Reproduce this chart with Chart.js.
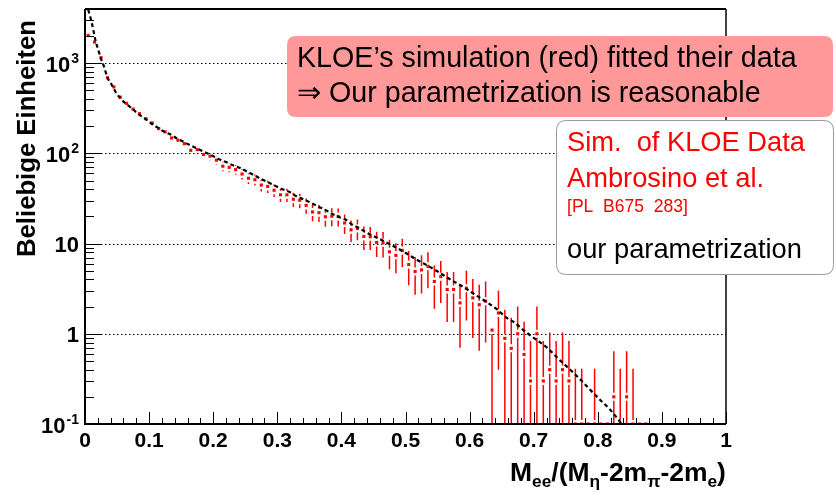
<!DOCTYPE html>
<html><head><meta charset="utf-8">
<script src="https://cdn.jsdelivr.net/npm/chart.js@4/dist/chart.umd.min.js"></script>
<style>html,body{margin:0;padding:0;background:#fff}</style>
</head><body>
<canvas id="c" width="836" height="496"></canvas>
<script>
// ---------- data ----------
const binCenters = [0.005,0.015,0.025,0.035,0.045,0.055,0.065,0.075,0.085,0.095,
 0.105,0.115,0.125,0.135,0.145,0.155,0.165,0.175,0.185,0.195,
 0.205,0.215,0.225,0.235,0.245,0.255,0.265,0.275,0.285,0.295,
 0.305,0.315,0.325,0.335,0.345,0.355,0.365,0.375,0.385,0.395,
 0.405,0.415,0.425,0.435,0.445,0.455,0.465,0.475,0.485,0.495,
 0.505,0.515,0.525,0.535,0.545,0.555,0.565,0.575,0.585,0.595,
 0.605,0.615,0.625,0.635,0.645,0.655,0.665,0.675,0.685,0.695,
 0.705,0.715,0.725,0.735,0.745,0.755,0.765,0.775,0.785,0.795,
 0.805,0.815,0.825,0.835,0.845,0.855,0.865,0.875];
const kloeValues = [2030,1710,1150,690,545,420,358,309,275,242,
 217,188,173,148,140,128,108,110,97,93,
 84,72,70,66,59,53,51,44.5,43,39,
 34.7,34.7,31,30.2,26.5,22.4,22,19.8,20.1,20,
 16.9,14.2,14.7,12,11.9,10.3,10.2,8.1,7.4,8.4,
 5.85,4.9,5.1,5.6,3.8,4.3,3.1,3.1,2.2,3.2,
 2.5,2.1,2.3,1.1,1.7,0.89,0.69,1.0,0.59,0.3,
 1.0,0.3,0.4,0.3,0.4,0.3,0.1,0.1,0,0.1,
 0,0,0.2,0.1,0.2,0.1,0,0];
const kloeErrLow = [45,41,34,26,23,20,19,18,17,16,
 15,14,13,12,12,11,10,10.5,10,9.6,
 9.2,8.5,8.4,8.1,7.7,7.3,7.1,6.7,6.6,6.2,
 5.9,5.9,5.6,5.5,5.1,4.7,4.7,4.4,4.5,4.5,
 4.1,3.8,3.8,3.5,3.4,3.2,3.2,2.9,2.7,2.9,
 2.4,2.2,2.3,2.4,1.9,2.1,1.75,1.75,1.5,1.8,
 1.6,1.45,1.5,1.1,1.3,0.96,0.82,1.0,0.77,0.53,
 1.0,0.53,0.63,0.53,0.63,0.53,0.31,0.31,0,0.31,
 0,0,0.44,0.31,0.44,0.31,0,0];
const kloeErrHigh = [45,41,34,26,23,20,19,18,17,16,
 15,14,13,12,12,11,10,10.5,10,9.6,
 9.2,8.5,8.4,8.1,7.7,7.3,7.1,6.7,6.6,6.2,
 5.9,5.9,5.6,5.5,5.1,4.7,4.7,4.4,4.5,4.5,
 4.1,3.8,3.8,3.5,3.4,3.2,3.2,2.9,2.7,2.9,
 2.4,2.2,2.3,2.4,1.9,2.1,1.75,1.75,1.3,1.8,
 1.55,1.4,1.5,0,1.3,0.96,0.82,1.0,0.77,0.53,
 1.0,0.53,0.63,0.53,0.63,0.53,0.31,0.31,0,0.31,
 0,0,0.44,0.31,0.44,0.31,0,0];
const curveX = [0.005,0.0094,0.013,0.0167,0.0208,0.0245,0.0286,0.0354,0.0416,0.0478,
 0.0546,0.064,0.0754,0.0832,0.0936,0.104,0.113,0.124,0.134,0.145,
 0.154,0.165,0.176,0.186,0.198,0.208,0.221,0.231,0.242,0.255,
 0.265,0.275,0.286,0.296,0.307,0.32,0.33,0.342,0.353,0.363,
 0.374,0.385,0.395,0.406,0.417,0.427,0.437,0.447,0.458,0.471,
 0.491,0.507,0.517,0.538,0.552,0.57,0.591,0.612,0.627,0.643,
 0.658,0.671,0.68,0.689,0.7,0.721,0.737,0.757,0.773,0.788,
 0.803,0.819,0.832,0.845];
const curveY = [3900,3020,2340,1740,1400,1140,960,684,577,479,
 411,355,305,273,242,213,194,173,161,144,
 134,122,112,104,94.4,86.8,79.5,73.6,68.9,61.6,
 56.6,52,47.7,43.9,40.3,37,33.4,30.7,28.2,25.9,
 23.8,21.5,19.8,18.5,16.2,14.9,13.5,12.4,11.4,10.2,
 8.6,7.36,6.65,5.52,4.81,3.99,3.28,2.61,2.24,1.86,
 1.50,1.32,1.16,1.03,0.90,0.70,0.54,0.40,0.31,0.24,
 0.187,0.145,0.112,0.085];
const xTickValues = [0,0.1,0.2,0.3,0.4,0.5,0.6,0.7,0.8,0.9,1];
const xTickLabels = ["0","0.1","0.2","0.3","0.4","0.5","0.6","0.7","0.8","0.9","1"];
const yTickValues = [0.1,1,10,100,1000];
const yTickBases = ["10","1","10","10","10"];
const yTickExps = ["-1","","","2","3"];
const xTitleParts = [["M",0],["ee",1],["/(M",0],["\u03B7",1],["-2m",0],["\u03C0",1],["-2m",0],["e",1],[")",0]];
const yTitle = "Beliebige Einheiten";
const noteTexts = ["KLOE\u2019s simulation (red) fitted their data","\u21D2 Our parametrization is reasonable"];
const legendTexts = ["Sim.  of KLOE Data","Ambrosino et al.","[PL  B675  283]","our parametrization"];

// ---------- drawing ----------
const FONT = '"Liberation Sans", Arial, sans-serif';
function fit(ctx, text, weight, target) {
  ctx.font = weight + ' 20px ' + FONT;
  return 20 * target / ctx.measureText(text).width;
}
function rrect(ctx, x, y, w, h, r) {
  ctx.beginPath();
  ctx.moveTo(x + r, y); ctx.lineTo(x + w - r, y); ctx.quadraticCurveTo(x + w, y, x + w, y + r);
  ctx.lineTo(x + w, y + h - r); ctx.quadraticCurveTo(x + w, y + h, x + w - r, y + h);
  ctx.lineTo(x + r, y + h); ctx.quadraticCurveTo(x, y + h, x, y + h - r);
  ctx.lineTo(x, y + r); ctx.quadraticCurveTo(x, y, x + r, y); ctx.closePath();
}

const decor = {
  id: 'decor',
  beforeDatasetsDraw(chart) {
    const {ctx, chartArea: a, scales: {x, y}} = chart;
    ctx.save();
    ctx.strokeStyle = '#000'; ctx.lineWidth = 1; ctx.setLineDash([1.5, 2.5]);
    yTickValues.forEach(v => {
      if (v <= y.min) return;
      const py = Math.round(y.getPixelForValue(v)) + 0.5;
      ctx.beginPath(); ctx.moveTo(a.left, py); ctx.lineTo(a.right, py); ctx.stroke();
    });
    ctx.setLineDash([]);
    ctx.beginPath(); ctx.rect(a.left, a.top, a.right - a.left, a.bottom - a.top); ctx.clip();
    ctx.strokeStyle = '#ff0000'; ctx.lineWidth = 1.5;
    const gap = 4;
    binCenters.forEach((xc, i) => {
      const v = kloeValues[i];
      if (!(v > 0)) return;
      const px = x.getPixelForValue(xc);
      const py = y.getPixelForValue(Math.max(v, y.min));
      const hi = v + kloeErrHigh[i], lo = v - kloeErrLow[i];
      const pHi = y.getPixelForValue(hi);
      const pLo = lo > 0 ? y.getPixelForValue(lo) : a.bottom;
      ctx.beginPath();
      if (pHi < py - gap) { ctx.moveTo(px, pHi); ctx.lineTo(px, py - gap); }
      if (pLo > py + gap) { ctx.moveTo(px, py + gap); ctx.lineTo(px, pLo); }
      ctx.stroke();
    });
    ctx.restore();
  },
  afterDatasetsDraw(chart) {
    const {ctx, chartArea: a, scales: {x, y}} = chart;
    ctx.save();
    ctx.strokeStyle = '#000'; ctx.fillStyle = '#000';
    ctx.lineWidth = 1;
    for (let e = Math.floor(Math.log10(y.min)); e <= Math.ceil(Math.log10(y.max)); e++) {
      for (let k = 1; k <= 9; k++) {
        const v = k * Math.pow(10, e);
        if (v < y.min - 1e-12 || v > y.max) continue;
        const py = Math.round(y.getPixelForValue(v)) + 0.5;
        ctx.beginPath(); ctx.moveTo(a.left, py); ctx.lineTo(a.left + (k === 1 ? 17 : 9), py); ctx.stroke();
      }
    }
    for (let j = 0; j <= 50; j++) {
      const v = j * 0.02;
      const px = Math.round(x.getPixelForValue(v)) + 0.5;
      ctx.beginPath(); ctx.moveTo(px, a.bottom); ctx.lineTo(px, a.bottom - (j % 5 === 0 ? 12 : 6)); ctx.stroke();
    }
    ctx.lineWidth = 2;
    ctx.beginPath(); ctx.moveTo(a.left, a.top); ctx.lineTo(a.left, a.bottom); ctx.lineTo(a.right, a.bottom); ctx.stroke();
    ctx.beginPath(); ctx.moveTo(a.left, a.top); ctx.lineTo(a.right, a.top); ctx.stroke();
    ctx.lineWidth = 1.5;
    ctx.beginPath(); ctx.moveTo(a.right, a.top); ctx.lineTo(a.right, a.bottom); ctx.stroke();

    ctx.font = 'bold 21px ' + FONT; ctx.textAlign = 'center'; ctx.textBaseline = 'alphabetic';
    xTickValues.forEach((v, i) => ctx.fillText(xTickLabels[i], x.getPixelForValue(v), a.bottom + 23));
    yTickValues.forEach((v, i) => {
      const py = y.getPixelForValue(v);
      ctx.font = 'bold 14px ' + FONT;
      const we = yTickExps[i] ? ctx.measureText(yTickExps[i]).width + 1 : 0;
      ctx.font = 'bold 22px ' + FONT;
      const wb = ctx.measureText(yTickBases[i]).width;
      const right = a.left - 6;
      ctx.textAlign = 'left';
      ctx.fillText(yTickBases[i], right - we - wb, py + 8.5);
      if (yTickExps[i]) { ctx.font = 'bold 14px ' + FONT; ctx.fillText(yTickExps[i], right - we + 1, py - 0.5); }
    });
    const ys = fit(ctx, yTitle, 'bold', 237);
    ctx.save(); ctx.translate(35, 138.5); ctx.rotate(-Math.PI / 2);
    ctx.font = 'bold ' + ys + 'px ' + FONT; ctx.textAlign = 'center'; ctx.fillText(yTitle, 0, 0);
    ctx.restore();
    const mainS = 26, subS = 17;
    let tot = 0;
    xTitleParts.forEach(p => { ctx.font = 'bold ' + (p[1] ? subS : mainS) + 'px ' + FONT; tot += ctx.measureText(p[0]).width; });
    const sc = 216 / tot;
    let cx = a.right - 216;
    ctx.textAlign = 'left';
    xTitleParts.forEach(p => {
      ctx.font = 'bold ' + ((p[1] ? subS : mainS) * sc) + 'px ' + FONT;
      ctx.fillText(p[0], cx, 481 + (p[1] ? 6 : 0));
      cx += ctx.measureText(p[0]).width;
    });

    // note box
    ctx.fillStyle = 'rgb(255,153,153)';
    rrect(ctx, 287, 36, 546, 81, 9); ctx.fill();
    ctx.fillStyle = '#000';
    const ns = fit(ctx, noteTexts[0], 'normal', 500);
    ctx.font = ns + 'px ' + FONT;
    ctx.fillText(noteTexts[0], 297, 66.7);
    ctx.fillText(noteTexts[1], 297, 101.7);
    // legend box
    ctx.fillStyle = '#fff'; ctx.strokeStyle = '#999'; ctx.lineWidth = 1;
    rrect(ctx, 556.5, 120.5, 277, 154, 10); ctx.fill(); ctx.stroke();
    const ls = fit(ctx, legendTexts[0], 'normal', 238);
    const rs = fit(ctx, legendTexts[2], 'normal', 121);
    const lb = [150.7, 186.7, 211.7, 258.3];
    legendTexts.forEach((t, i) => {
      ctx.font = (i === 2 ? rs : ls) + 'px ' + FONT; ctx.fillStyle = i < 3 ? '#ff0000' : '#000';
      ctx.fillText(t, 567, lb[i]);
    });
    ctx.restore();
  }
};

const yMin = 0.1;
new Chart(document.getElementById('c').getContext('2d'), {
  type: 'scatter',
  data: { datasets: [
    { label: 'our parametrization', data: curveX.map((xv, i) => ({x: xv, y: curveY[i]})),
      showLine: true, borderColor: '#000', borderWidth: 2.2, borderDash: [4, 3],
      pointRadius: 0, cubicInterpolationMode: 'monotone', fill: false },
    { label: 'Sim. of KLOE Data', data: binCenters.map((xv, i) => ({x: xv, y: kloeValues[i] > 0 ? kloeValues[i] : yMin})),
      showLine: false, pointStyle: 'rect', pointRadius: 2.2, pointBorderWidth: 0,
      backgroundColor: '#ff0000', borderColor: '#ff0000' }
  ]},
  options: {
    responsive: false, animation: false, devicePixelRatio: 1,
    layout: { padding: { left: 85, right: 110, top: 9, bottom: 72 } },
    plugins: { legend: { display: false }, tooltip: { enabled: false } },
    scales: {
      x: { type: 'linear', min: 0, max: 1, display: false },
      y: { type: 'logarithmic', min: yMin, max: 3981, display: false }
    }
  },
  plugins: [decor]
});
</script>
</body></html>
